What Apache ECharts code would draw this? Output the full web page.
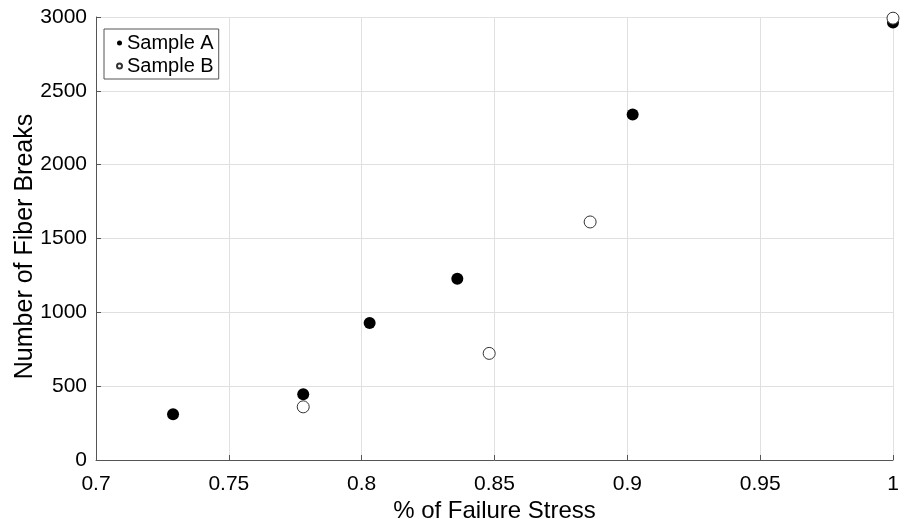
<!DOCTYPE html>
<html>
<head>
<meta charset="utf-8">
<script src="https://cdn.jsdelivr.net/npm/echarts@6/dist/echarts.min.js"></script>
<style>
html,body{margin:0;padding:0;background:#fff;}
#chart{width:909px;height:519px;}
</style>
</head>
<body>
<div id="chart"></div>
<script>
// Data
var sampleA_x = [0.729, 0.778, 0.803, 0.836, 0.902, 1.0];
var sampleA_y = [310, 445, 928, 1228, 2340, 2962];
var sampleB_x = [0.778, 0.848, 0.886, 1.0];
var sampleB_y = [360, 722, 1612, 2992];
var xTicks = [0.7, 0.75, 0.8, 0.85, 0.9, 0.95, 1];
var yTicks = [0, 500, 1000, 1500, 2000, 2500, 3000];

function pairs(xs, ys){ return xs.map(function(x,i){ return [x, ys[i]]; }); }

var font = "'Liberation Sans', Arial, Helvetica, sans-serif";
var chart = echarts.init(document.getElementById('chart'));
chart.setOption({
  animation: false,
  backgroundColor: '#fff',
  textStyle: {fontFamily: font},
  grid: {left: 96, right: 16, top: 17, bottom: 59, containLabel: false, outerBoundsMode: 'none'},
  legend: {
    left: 104, top: 29,
    orient: 'vertical',
    borderColor: '#555', borderWidth: 1,
    padding: [4, 5, 3, 12],
    itemGap: 3,
    itemWidth: 5, itemHeight: 5,
    textStyle: {fontSize: 20, color: '#000', fontFamily: font},
    data: [
      {name: 'Sample A', icon: 'circle'},
      {name: 'Sample B', icon: 'circle'}
    ]
  },
  xAxis: {
    type: 'value', min: 0.7, max: 1, interval: 0.05,
    name: '% of Failure Stress', nameLocation: 'middle', nameGap: 39, nameMoveOverlap: false,
    nameTextStyle: {fontSize: 24, color: '#000', fontFamily: font},
    axisLine: {show: true, lineStyle: {color: '#555', width: 1}},
    axisTick: {show: true, inside: true, length: 5, lineStyle: {color: '#555'}},
    axisLabel: {fontSize: 21, color: '#000', margin: 14, fontFamily: font,
      formatter: function(v){ var s = xTicks.filter(function(t){return Math.abs(t-v)<1e-9;}); return s.length? String(s[0]) : ''; }},
    splitLine: {show: true, lineStyle: {color: '#e0e0e0', width: 1}}
  },
  yAxis: {
    type: 'value', min: 0, max: 3000, interval: 500,
    name: 'Number of Fiber Breaks', nameLocation: 'middle', nameGap: 58, nameMoveOverlap: false,
    nameTextStyle: {fontSize: 25, color: '#000', fontFamily: font, padding: [0, 16, 0, 0]},
    axisLine: {show: true, lineStyle: {color: '#555', width: 1}},
    axisTick: {show: true, inside: true, length: 5, lineStyle: {color: '#555'}},
    axisLabel: {fontSize: 21, color: '#000', margin: 9, fontFamily: font,
      formatter: function(v){ var s = yTicks.filter(function(t){return Math.abs(t-v)<1e-9;}); return s.length? String(s[0]) : ''; }},
    splitLine: {show: true, lineStyle: {color: '#e0e0e0', width: 1}}
  },
  series: [
    {
      name: 'Sample A', type: 'scatter', clip: false,
      symbol: 'circle', symbolSize: 12,
      itemStyle: {color: '#000', borderColor: '#000', borderWidth: 0, opacity: 1},
      data: pairs(sampleA_x, sampleA_y)
    },
    {
      name: 'Sample B', type: 'scatter', clip: false,
      symbol: 'circle', symbolSize: 12,
      itemStyle: {color: '#fff', borderColor: '#333', borderWidth: 1, opacity: 1},
      data: pairs(sampleB_x, sampleB_y)
    }
  ]
});
</script>
</body>
</html>
